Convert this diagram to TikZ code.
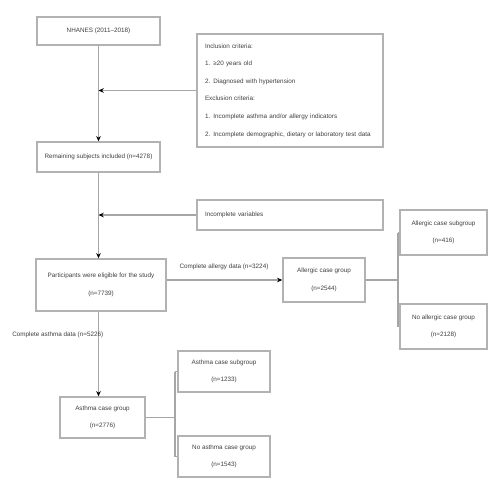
\documentclass[tikz,border=0pt]{standalone}
\usepackage{fontspec}
\setmainfont{Liberation Sans}
\usetikzlibrary{arrows.meta}
\begin{document}
\begin{tikzpicture}[x=0.02cm,y=-0.02cm,
  box/.style={draw=black!30,line width=0.8pt,fill=white,align=center,inner sep=1pt,
    font=\fontsize{3.6}{10}\selectfont,text=black!75},
  lbox/.style={box,align=left,text width=3.4cm,inner xsep=0.16cm},
  conn/.style={draw=black!35,line width=0.7pt},
  arr/.style={conn,-{Stealth[length=3pt,width=2.6pt,black]}},
  lab/.style={font=\fontsize{3.6}{4.5}\selectfont,text=black!75,inner sep=0pt}]
\useasboundingbox[fill=white] (0,0) rectangle (500,500);
% nodes
\node[box,minimum width=2.46cm,minimum height=0.56cm] (b1) at (98.5,31) {NHANES (2011--2018)};
\node[lbox,minimum height=2.26cm] (big) at (290,90.5) {Inclusion criteria:\\
1. ≥20 years old\\
2. Diagnosed with hypertension\\
Exclusion criteria:\\
1. Incomplete asthma and/or allergy indicators\\
2. Incomplete demographic, dietary or laboratory test data};
\node[box,minimum width=2.46cm,minimum height=0.6cm] (b2) at (98.5,157) {Remaining subjects included (n=4278)};
\node[lbox,minimum height=0.6cm] (excl) at (290,215) {Incomplete variables};
\node[box,minimum width=2.6cm,minimum height=1.04cm] (b4) at (101,285) {Participants were eligible for the study\\(n=7739)};
\node[box,minimum width=1.64cm,minimum height=0.88cm] (b5) at (324,280) {Allergic case group\\(n=2544)};
\node[box,minimum width=1.74cm,minimum height=0.9cm] (b6) at (443.5,232.5) {Allergic case subgroup\\(n=416)};
\node[box,minimum width=1.74cm,minimum height=0.9cm] (b7) at (443.5,326.5) {No allergic case group\\(n=2128)};
\node[box,minimum width=1.7cm,minimum height=0.82cm] (b8) at (102.5,417.5) {Asthma case group\\(n=2776)};
\node[box,minimum width=1.84cm,minimum height=0.82cm] (b9) at (224,371.5) {Asthma case subgroup\\(n=1233)};
\node[box,minimum width=1.84cm,minimum height=0.82cm] (b10) at (224,456.5) {No asthma case group\\(n=1543)};
% main column
\draw[arr] (b1.south) -- (b2.north);
\draw[arr] (big.west) -- (b1.south |- big.west);
\draw[arr] (b2.south) -- (b2.south |- b4.north);
\draw[arr] (excl.west) -- (b2.south |- excl.west);
\draw[arr] (b2.south |- b4.south) -- (b2.south |- b8.north);
\node[lab,anchor=west] (l2) at (12,335) {Complete asthma data (n=5226)};
% allergy branch
\draw[arr] (b4.east |- b5.west) -- (b5.west);
\node[lab] (l1) at (224,267) {Complete allergy data (n=3224)};
\coordinate (j1) at (398,280);
\draw[conn] (b5.east) -- (j1);
\draw[conn] (j1 |- b6.west) -- (j1 |- b7.west);
\draw[conn] (j1 |- b6.west) -- (b6.west);
\draw[conn] (j1 |- b7.west) -- (b7.west);
% asthma branch
\coordinate (j2) at (175,417.5);
\draw[conn] (b8.east) -- (j2);
\draw[conn] (j2 |- b9.west) -- (j2 |- b10.west);
\draw[conn] (j2 |- b9.west) -- (b9.west);
\draw[conn] (j2 |- b10.west) -- (b10.west);
\end{tikzpicture}
\end{document}
